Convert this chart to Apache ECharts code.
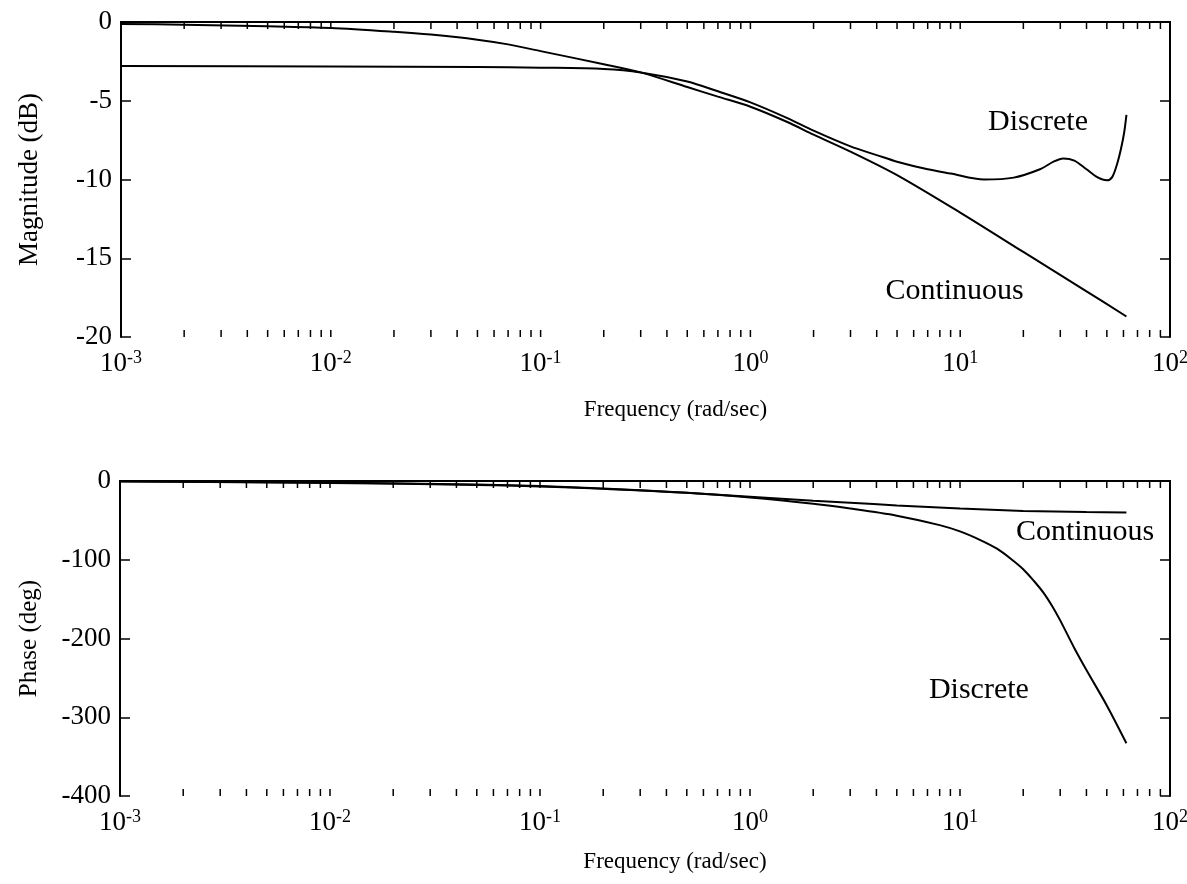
<!DOCTYPE html>
<html>
<head>
<meta charset="utf-8">
<script src="https://cdn.jsdelivr.net/npm/echarts@6/dist/echarts.min.js"></script>
<style>
  html, body { margin: 0; padding: 0; background: #fff; }
  #chart { width: 1187px; height: 884px; }
</style>
</head>
<body>
<div id="chart"></div>
<script>
// Frequency response: continuous vs. discrete equivalent (Bode magnitude and phase)

// Magnitude, continuous system
const contMagW  = [0.001, 0.002, 0.005, 0.01, 0.02, 0.03, 0.05, 0.07, 0.1, 0.2, 0.3, 0.5, 0.7, 1, 1.5, 2, 3, 5, 10, 20, 40, 62];
const contMagDb = [-0.12, -0.17, -0.27, -0.38, -0.62, -0.8, -1.12, -1.42, -1.85, -2.68, -3.2, -4.13, -4.74, -5.38, -6.35, -7.15, -8.23, -9.72, -12.1, -14.6, -17.1, -18.7];

// Magnitude, discrete system
const discMagW  = [0.001, 0.01, 0.05, 0.1, 0.2, 0.3, 0.5, 0.7, 1, 1.5, 2, 3, 4, 5, 7, 9, 13, 18, 24, 28, 31, 35, 40, 45, 50, 53, 56, 58.5, 60.5, 62];
const discMagDb = [-2.8, -2.82, -2.86, -2.9, -2.98, -3.2, -3.78, -4.4, -5.1, -6.1, -6.9, -7.9, -8.45, -8.87, -9.35, -9.62, -10.0, -9.88, -9.35, -8.85, -8.66, -8.8, -9.35, -9.85, -10.05, -9.85, -9.0, -8.0, -7.0, -5.9];

// Phase, continuous system
const contPhW   = [0.001, 0.01, 0.05, 0.1, 0.2, 0.5, 1, 2, 3, 5, 10, 20, 40, 62];
const contPhDeg = [-0.5, -2, -4.5, -6.5, -9.5, -15, -20, -25, -27.5, -31, -35, -38, -39.5, -40];

// Phase, discrete system
const discPhW   = [0.001, 0.01, 0.05, 0.1, 0.2, 0.5, 1, 2, 3, 5, 8, 10, 12.5, 15, 17.5, 20, 22.5, 25, 27.5, 30, 35, 40, 50, 62];
const discPhDeg = [-0.3, -2.5, -5, -7, -10, -15, -21, -29, -35, -44, -56, -64, -75, -86, -99, -112, -127, -142, -159, -177, -212, -240, -285, -333];

// Axis settings
const freqRange  = [0.001, 100];
const magTicks   = { min: -20, max: 0, interval: 5 };
const phaseTicks = { min: -400, max: 0, interval: 100 };

// Tick positions on the log frequency axis (1..9 of each decade, inside the range)
const minorTickW = [];
for (let e = -3; e <= 1; e++) {
  for (let m = 1; m <= 9; m++) {
    const v = m * Math.pow(10, e);
    if (v > freqRange[0] * 1.0001 && v < freqRange[1] * 0.9999) minorTickW.push(v);
  }
}

const FONT = '"Liberation Serif", "DejaVu Serif", serif';
const pair = (xs, ys) => xs.map((x, i) => [x, ys[i]]);

const grids = [
  { left: 121, top: 22, width: 1049, height: 315, outerBoundsMode: 'none', containLabel: false },
  { left: 120, top: 481, width: 1050, height: 315, outerBoundsMode: 'none', containLabel: false }
];

function xAxes(gridIndex, nameGap) {
  return [
    {
      type: 'log', logBase: 10, gridIndex, min: freqRange[0], max: freqRange[1],
      name: 'Frequency (rad/sec)', nameLocation: 'middle', nameGap,
      nameTextStyle: { fontFamily: FONT, fontSize: 23, color: '#000', padding: [0, 0, 0, 60] },
      axisLine: { show: true, lineStyle: { color: '#000', width: 2 } },
      axisTick: { show: false },
      splitLine: { show: false },
      axisLabel: {
        margin: 12,
        formatter: v => '{b|10}{s|' + Math.round(Math.log10(v)) + '}',
        rich: {
          b: { fontFamily: FONT, fontSize: 27, color: '#000', lineHeight: 28, verticalAlign: 'bottom' },
          s: { fontFamily: FONT, fontSize: 18, color: '#000', lineHeight: 18, verticalAlign: 'top' }
        }
      }
    },
    {
      type: 'log', logBase: 10, gridIndex, min: freqRange[0], max: freqRange[1], position: 'top',
      axisLine: { show: true, lineStyle: { color: '#000', width: 2 } },
      axisTick: { show: false }, axisLabel: { show: false }, splitLine: { show: false }
    }
  ];
}

function yAxes(gridIndex, ticks, name, nameGap, nameSize) {
  return [
    {
      type: 'value', gridIndex, min: ticks.min, max: ticks.max, interval: ticks.interval,
      name, nameLocation: 'middle', nameGap,
      nameTextStyle: { fontFamily: FONT, fontSize: nameSize, color: '#000' },
      axisLine: { show: true, lineStyle: { color: '#000', width: 2 } },
      axisTick: { show: true, inside: true, length: 10, lineStyle: { color: '#000', width: 1.5 } },
      splitLine: { show: false },
      axisLabel: { margin: 9, fontFamily: FONT, fontSize: 27, color: '#000' }
    },
    {
      type: 'value', gridIndex, min: ticks.min, max: ticks.max, interval: ticks.interval, position: 'right',
      axisLine: { show: true, lineStyle: { color: '#000', width: 2 } },
      axisTick: { show: true, inside: true, length: 10, lineStyle: { color: '#000', width: 1.5 } },
      axisLabel: { show: false }, splitLine: { show: false }
    }
  ];
}

// Short inward ticks drawn along the bottom and top edges of a panel
function tickSeries(xAxisIndex, yAxisIndex, yMin, yMax) {
  return {
    type: 'custom', xAxisIndex, yAxisIndex, silent: true, clip: false,
    data: minorTickW.map(w => [w]),
    renderItem: (params, api) => {
      const w = api.value(0);
      const b = api.coord([w, yMin]);
      const t = api.coord([w, yMax]);
      const st = { stroke: '#000', lineWidth: 1.5 };
      return {
        type: 'group',
        children: [
          { type: 'line', shape: { x1: b[0], y1: b[1], x2: b[0], y2: b[1] - 7 }, style: st },
          { type: 'line', shape: { x1: t[0], y1: t[1], x2: t[0], y2: t[1] + 7 }, style: st }
        ]
      };
    }
  };
}

function curve(name, xAxisIndex, yAxisIndex, data) {
  return {
    type: 'line', name, xAxisIndex, yAxisIndex, data,
    showSymbol: false, smooth: 0.3,
    lineStyle: { color: '#000', width: 2 }, animation: false
  };
}

const chart = echarts.init(document.getElementById('chart'), null, { renderer: 'canvas' });

chart.setOption({
  animation: false,
  backgroundColor: '#fff',
  grid: grids,
  xAxis: [...xAxes(0, 61), ...xAxes(1, 54)],
  yAxis: [...yAxes(0, magTicks, 'Magnitude (dB)', 78, 27), ...yAxes(1, phaseTicks, 'Phase (deg)', 78, 25)],
  series: [
    tickSeries(0, 0, magTicks.min, magTicks.max),
    tickSeries(2, 2, phaseTicks.min, phaseTicks.max),
    curve('Continuous', 0, 0, pair(contMagW, contMagDb)),
    curve('Discrete', 0, 0, pair(discMagW, discMagDb)),
    curve('Continuous', 2, 2, pair(contPhW, contPhDeg)),
    curve('Discrete', 2, 2, pair(discPhW, discPhDeg))
  ]
});

// Curve annotations placed in data coordinates
const notes = [
  { text: 'Discrete',   grid: 0, at: [23.5, -6.35] },
  { text: 'Continuous', grid: 0, at: [9.4, -17.1] },
  { text: 'Continuous', grid: 1, at: [39.4, -65] },
  { text: 'Discrete',   grid: 1, at: [12.3, -265] }
];
chart.setOption({
  graphic: notes.map(n => {
    const p = chart.convertToPixel({ gridIndex: n.grid }, n.at);
    return {
      type: 'text', x: p[0], y: p[1], silent: true,
      style: { text: n.text, fontFamily: FONT, fontSize: 30, fill: '#000', align: 'center', verticalAlign: 'middle' }
    };
  })
});
</script>
</body>
</html>
